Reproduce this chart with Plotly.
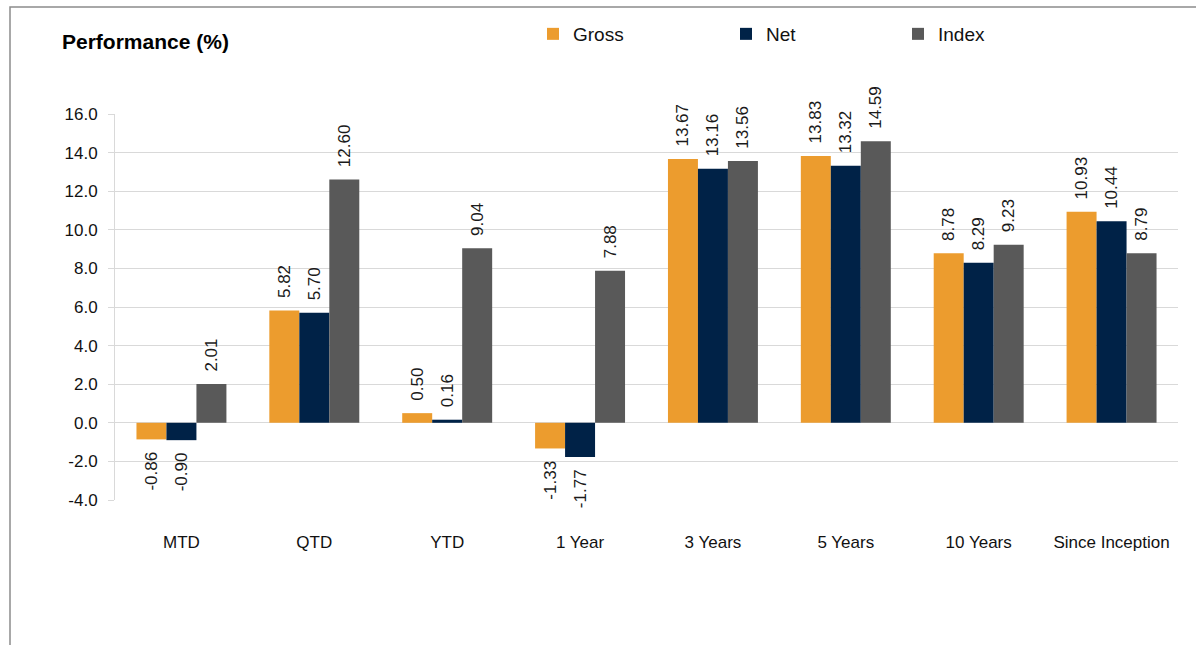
import plotly.graph_objects as go

# Performance by period (%)
periods = ["MTD", "QTD", "YTD", "1 Year", "3 Years", "5 Years", "10 Years", "Since Inception"]
gross = [-0.86, 5.82, 0.50, -1.33, 13.67, 13.83, 8.78, 10.93]
net = [-0.90, 5.70, 0.16, -1.77, 13.16, 13.32, 8.29, 10.44]
index = [2.01, 12.60, 9.04, 7.88, 13.56, 14.59, 9.23, 8.79]

y_ticks = [-4.0, -2.0, 0.0, 2.0, 4.0, 6.0, 8.0, 10.0, 12.0, 14.0, 16.0]

FONT = "Liberation Sans, Arial, sans-serif"
NBSP = "\u00a0\u00a0"

W, H = 1196, 645
L, R, T, B = 115, 18, 114, 145
plot_w = W - L - R
plot_h = H - T - B


def px_x(px):
    return (px - L) / plot_w


def px_y(py):
    return (H - B - py) / plot_h


def labels(vals):
    # rotated labels read bottom-to-top; pad the end that faces the bar
    return [f"{NBSP}{v:.2f}" if v >= 0 else f"{v:.2f}{NBSP}" for v in vals]


series = [
    ("Gross", gross, "#EC9C2E", "legend"),
    ("Net", net, "#002247", "legend2"),
    ("Index", index, "#595959", "legend3"),
]

fig = go.Figure()
for name, vals, color, leg in series:
    fig.add_trace(go.Bar(
        name=name,
        x=periods,
        y=vals,
        marker=dict(color=color, line=dict(width=0)),
        text=labels(vals),
        texttemplate="%{text}",
        textposition="outside",
        textangle=-90,
        constraintext="none",
        cliponaxis=False,
        textfont=dict(family=FONT, size=17, color="#1a1a1a"),
        legend=leg,
    ))

legend_common = dict(
    orientation="h",
    yanchor="middle",
    xanchor="left",
    y=px_y(34),
    font=dict(family=FONT, size=19, color="#111111"),
    bgcolor="rgba(0,0,0,0)",
    itemclick=False,
)

fig.update_layout(
    width=W,
    height=H,
    margin=dict(l=L, r=R, t=T, b=B, pad=0),
    paper_bgcolor="white",
    plot_bgcolor="white",
    barmode="group",
    bargap=0.323,
    bargroupgap=0,
    font=dict(family=FONT, size=17, color="#111111"),
    title=dict(
        text="<b>Performance (%)</b>",
        xref="container", yref="container",
        x=62 / W, xanchor="left",
        y=1 - 42 / H, yanchor="middle",
        font=dict(family=FONT, size=21, color="#000000"),
    ),
    legend=dict(x=px_x(533), **legend_common),
    legend2=dict(x=px_x(726), **legend_common),
    legend3=dict(x=px_x(898), **legend_common),
    xaxis=dict(
        showgrid=False,
        showline=False,
        ticks="",
        ticklabelstandoff=30,
        tickfont=dict(family=FONT, size=17, color="#111111"),
    ),
    yaxis=dict(
        range=[-4, 16],
        tickvals=y_ticks,
        ticktext=[f"{v:.1f}" for v in y_ticks],
        showgrid=True,
        gridcolor="#d9d9d9",
        gridwidth=1,
        zeroline=True,
        zerolinecolor="#d9d9d9",
        zerolinewidth=1,
        showline=True,
        linecolor="#d9d9d9",
        linewidth=1,
        ticks="outside",
        ticklen=6,
        tickcolor="#d9d9d9",
        ticklabelstandoff=7,
        tickfont=dict(family=FONT, size=17, color="#111111"),
    ),
    showlegend=True,
)

# Frame lines along the left and top edges of the panel
fig.add_shape(
    type="path",
    xref="paper", yref="paper",
    path=f"M {px_x(10)},{px_y(H + 5)} L {px_x(10)},{px_y(7)} L {px_x(W + 5)},{px_y(7)}",
    line=dict(color="#8c8c8c", width=1.5),
    layer="above",
)

fig.write_html("out.html")
